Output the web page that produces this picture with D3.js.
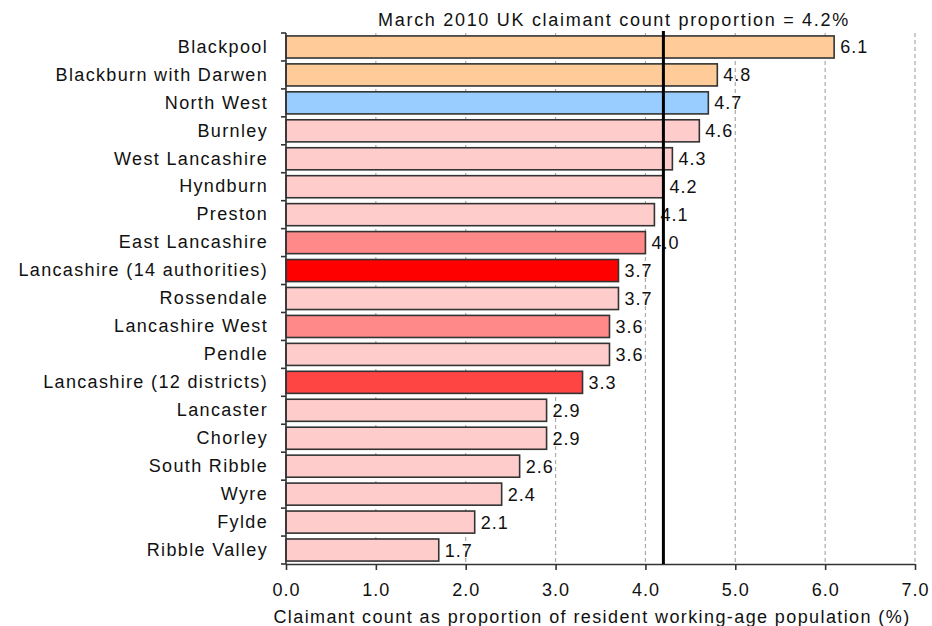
<!DOCTYPE html>
<html>
<head>
<meta charset="utf-8">
<script src="https://cdn.jsdelivr.net/npm/d3@7"></script>
<style>
	body { margin: 0; background: #fff; }
	text { font-family: "Liberation Sans", Arial, sans-serif; fill: #111; }
</style>
</head>
<body>
<div id="chart"></div>
<script>
// areas, top to bottom
var areas = ['Blackpool', 'Blackburn with Darwen', 'North West', 'Burnley', 'West Lancashire',
	'Hyndburn', 'Preston', 'East Lancashire', 'Lancashire (14 authorities)', 'Rossendale',
	'Lancashire West', 'Pendle', 'Lancashire (12 districts)', 'Lancaster', 'Chorley',
	'South Ribble', 'Wyre', 'Fylde', 'Ribble Valley']
var claimantRate = [6.1, 4.8, 4.7, 4.6, 4.3, 4.2, 4.1, 4.0, 3.7, 3.7, 3.6, 3.6, 3.3, 2.9, 2.9, 2.6, 2.4, 2.1, 1.7]
// kind of area, used for the bar colour
var areaType = ['unitary', 'unitary', 'region', 'district', 'district', 'district', 'district', 'group',
	'county14', 'district', 'group', 'district', 'county12', 'district', 'district',
	'district', 'district', 'district', 'district']
var ukRate = 4.2
var xTicks = [0, 1, 2, 3, 4, 5, 6, 7]

var W = 932, H = 626
var margin = { top: 33, right: 17, bottom: 62, left: 286 }

var typeColor = d3.scaleOrdinal()
	.domain(['unitary', 'region', 'district', 'group', 'county14', 'county12'])
	.range(['#ffcc99', '#99ccff', '#ffcccc', '#ff8888', '#ff0000', '#ff4444'])

var svg = d3.select('#chart').append('svg')
	.attr('width', W)
	.attr('height', H)

var x = d3.scaleLinear().domain([0, 7]).range([margin.left, W - margin.right])
var y = d3.scaleBand().domain(areas).range([margin.top, H - margin.bottom]).paddingInner(0.21).paddingOuter(0.105)

var fs = 18

// dashed grid
svg.append('g').selectAll('line')
	.data(xTicks.slice(1))
	.join('line')
	.attr('x1', d => x(d)).attr('x2', d => x(d))
	.attr('y1', margin.top).attr('y2', H - margin.bottom)
	.style('stroke', '#aaa')
	.style('stroke-width', 1.2)
	.style('stroke-dasharray', '4,3')

var rows = svg.append('g').selectAll('g')
	.data(areas)
	.join('g')

rows.append('rect')
	.attr('x', x(0))
	.attr('y', d => y(d))
	.attr('width', (d, i) => x(claimantRate[i]) - x(0))
	.attr('height', y.bandwidth())
	.style('fill', (d, i) => typeColor(areaType[i]))
	.style('stroke', '#333')
	.style('stroke-width', 1.6)

rows.append('text')
	.attr('x', (d, i) => x(claimantRate[i]) + 6)
	.attr('y', d => y(d) + y.bandwidth() / 2)
	.attr('dy', '0.36em')
	.style('font-size', fs + 'px')
	.style('letter-spacing', '1px')
	.text((d, i) => claimantRate[i].toFixed(1))

// axes
var yAxis = svg.append('g')
	.attr('transform', `translate(${margin.left},0)`)
	.call(d3.axisLeft(y).tickSize(0).tickPadding(18))
yAxis.select('.domain').remove()
yAxis.selectAll('text')
	.style('font-size', fs + 'px')
	.style('letter-spacing', '1.35px')

// ticks between the bands
var step = y.step()
svg.append('g').selectAll('line')
	.data(d3.range(areas.length + 1))
	.join('line')
	.attr('x1', margin.left - 5).attr('x2', margin.left)
	.attr('y1', i => margin.top + i * step).attr('y2', i => margin.top + i * step)
	.style('stroke', '#333').style('stroke-width', 1.6)
svg.append('line')
	.attr('x1', margin.left).attr('x2', margin.left)
	.attr('y1', margin.top).attr('y2', H - margin.bottom)
	.style('stroke', '#333').style('stroke-width', 1.6)

var xAxis = svg.append('g')
	.attr('transform', `translate(0,${H - margin.bottom})`)
	.call(d3.axisBottom(x).tickValues(xTicks).tickFormat(d3.format('.1f')).tickSize(6).tickSizeOuter(0).tickPadding(13))
xAxis.select('.domain').style('stroke', '#333').style('stroke-width', 1.6)
xAxis.selectAll('.tick line').style('stroke', '#333').style('stroke-width', 1.6)
xAxis.selectAll('text')
	.style('font-size', fs + 'px')
	.style('letter-spacing', '1px')

// UK reference line
svg.append('line')
	.attr('x1', x(ukRate)).attr('x2', x(ukRate))
	.attr('y1', margin.top - 2).attr('y2', H - margin.bottom)
	.style('stroke', '#000')
	.style('stroke-width', 3)

svg.append('text')
	.attr('x', 614)
	.attr('y', 26)
	.attr('text-anchor', 'middle')
	.style('font-size', fs + 'px')
	.style('letter-spacing', '1.7px')
	.text(`March 2010 UK claimant count proportion = ${ukRate.toFixed(1)}%`)

svg.append('text')
	.attr('x', 592)
	.attr('y', 623)
	.attr('text-anchor', 'middle')
	.style('font-size', fs + 'px')
	.style('letter-spacing', '1.4px')
	.text('Claimant count as proportion of resident working-age population (%)')
</script>
</body>
</html>
